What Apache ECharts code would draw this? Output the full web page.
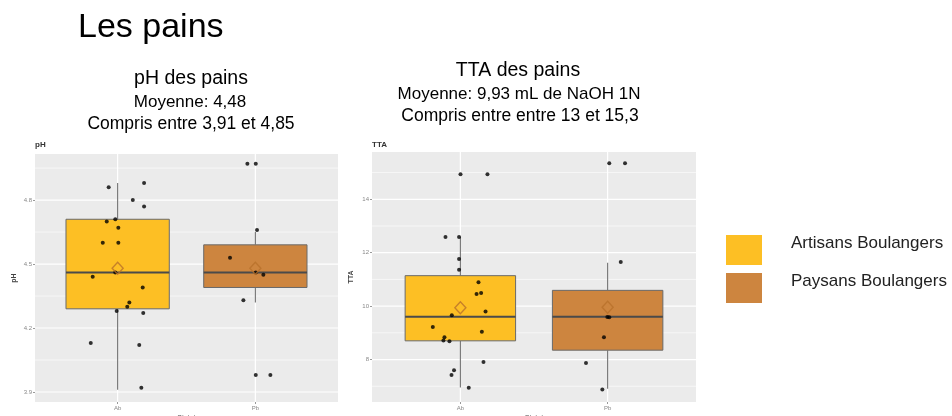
<!DOCTYPE html>
<html><head><meta charset="utf-8">
<script src="https://cdn.jsdelivr.net/npm/echarts@6/dist/echarts.min.js"></script>
<style>html,body{margin:0;padding:0;background:#fff}#c{width:952px;height:416px}</style>
</head><body><div id="c"></div><script>
const categories = ['Ab', 'Pb'];
const groupNames = ['Artisans Boulangers', 'Paysans Boulangers'];
const groupColors = ['#FDBF24', '#CD853F'];

const phTicks = [3.9, 4.2, 4.5, 4.8];
const phMinorTicks = [4.05, 4.35, 4.65, 4.95];
const ttaTicks = [8, 10, 12, 14];
const ttaMinorTicks = [7, 9, 11, 13, 15];

// box stats [min, q1, median, q3, max]
const phBoxAb = [3.91, 4.29, 4.46, 4.71, 4.88];
const phBoxPb = [4.32, 4.39, 4.46, 4.59, 4.65];
const phMeans = [4.48, 4.48];
const ttaBoxAb = [6.95, 8.70, 9.60, 11.14, 12.60];
const ttaBoxPb = [6.91, 8.35, 9.60, 10.59, 11.62];
const ttaMeans = [9.94, 9.96];

// observations and their horizontal jitter (category units)
const phAbValues = [4.86, 4.88, 4.80, 4.77, 4.70, 4.71, 4.67, 4.60, 4.60, 4.46, 4.44, 4.39, 4.32, 4.30, 4.28, 4.27, 4.13, 4.12, 3.92];
const phAbJitter = [-0.065, 0.192, 0.110, 0.192, -0.079, -0.017, 0.005, -0.108, 0.005, -0.017, -0.181, 0.182, 0.085, 0.070, -0.007, 0.186, -0.195, 0.157, 0.172];
const phPbValues = [4.97, 4.97, 4.66, 4.53, 4.46, 4.45, 4.33, 3.98, 3.98];
const phPbJitter = [-0.058, 0.003, 0.012, -0.184, 0.003, 0.058, -0.087, 0.003, 0.109];
const ttaAbValues = [14.94, 14.94, 12.59, 12.59, 11.76, 11.36, 10.89, 10.45, 10.49, 9.80, 9.66, 9.22, 9.04, 8.83, 8.71, 8.68, 7.91, 7.60, 7.42, 6.94];
const ttaAbJitter = [0.001, 0.184, -0.101, -0.009, -0.009, -0.009, 0.123, 0.110, 0.141, 0.171, -0.058, -0.187, 0.146, -0.108, -0.115, -0.074, 0.157, -0.043, -0.060, 0.057];
const ttaPbValues = [15.35, 15.35, 11.65, 9.59, 9.58, 8.83, 7.87, 6.88];
const ttaPbJitter = [0.011, 0.118, 0.089, -0.002, 0.011, -0.025, -0.147, -0.036];

const chart = echarts.init(document.getElementById('c'));
const FONT = 'Liberation Sans, Arial, sans-serif';

function hLines(idx, values, width) {
  return {
    type: 'custom', xAxisIndex: idx, yAxisIndex: idx, silent: true, z: 1,
    data: values.map(v => [1, v]),
    encode: { x: 0, y: 1 },
    renderItem: (params, api) => {
      const cs = params.coordSys;
      const y = api.coord([1, api.value(1)])[1];
      return { type: 'line', shape: { x1: cs.x, y1: y, x2: cs.x + cs.width, y2: y },
        style: { stroke: '#ffffff', lineWidth: width } };
    }
  };
}
function vLines(idx) {
  return {
    type: 'custom', xAxisIndex: idx, yAxisIndex: idx, silent: true, z: 1,
    data: categories.map((c, i) => [i + 1]),
    encode: { x: 0 },
    renderItem: (params, api) => {
      const cs = params.coordSys;
      const x = api.coord([api.value(0), 0])[0];
      return { type: 'line', shape: { x1: x, y1: cs.y, x2: x, y2: cs.y + cs.height },
        style: { stroke: '#ffffff', lineWidth: 1.2 } };
    }
  };
}
function boxSeries(idx, g, stats) {
  return {
    type: 'custom', name: groupNames[g], xAxisIndex: idx, yAxisIndex: idx, z: 2,
    itemStyle: { color: groupColors[g] },
    data: [[g + 1].concat(stats)],
    encode: { x: 0, y: [1, 2, 3, 4, 5] },
    renderItem: (params, api) => {
      const x = api.value(0);
      const half = 0.375;
      const pMin = api.coord([x, api.value(1)]);
      const pQ1 = api.coord([x, api.value(2)]);
      const pMed = api.coord([x, api.value(3)]);
      const pQ3 = api.coord([x, api.value(4)]);
      const pMax = api.coord([x, api.value(5)]);
      const l = api.coord([x - half, 0])[0];
      const r = api.coord([x + half, 0])[0];
      const ws = { stroke: '#707070', lineWidth: 1.1 };
      return { type: 'group', children: [
        { type: 'line', shape: { x1: pMin[0], y1: pMin[1], x2: pQ1[0], y2: pQ1[1] }, style: ws },
        { type: 'line', shape: { x1: pQ3[0], y1: pQ3[1], x2: pMax[0], y2: pMax[1] }, style: ws },
        { type: 'rect', shape: { x: l, y: pQ3[1], width: r - l, height: pQ1[1] - pQ3[1] },
          style: { fill: groupColors[g], stroke: '#6a6a6a', lineWidth: 1 } },
        { type: 'line', shape: { x1: l, y1: pMed[1], x2: r, y2: pMed[1] }, style: { stroke: '#4a4a4a', lineWidth: 2 } }
      ]};
    }
  };
}
function pointSeries(idx, g, values, jitter) {
  return {
    type: 'scatter', xAxisIndex: idx, yAxisIndex: idx, z: 3, silent: true,
    symbolSize: 4, itemStyle: { color: '#000' },
    data: values.map((v, i) => [g + 1 + jitter[i], v])
  };
}
function meanSeries(idx, means) {
  return {
    type: 'scatter', xAxisIndex: idx, yAxisIndex: idx, z: 4, silent: true,
    symbol: 'diamond', symbolSize: [11, 12],
    itemStyle: { color: 'rgba(0,0,0,0)', borderColor: '#B8702A', borderWidth: 1.4 },
    data: means.map((m, i) => [i + 1, m])
  };
}
function xAxis(idx) {
  return {
    type: 'value', gridIndex: idx, min: 0.4, max: 2.6,
    axisLine: { show: false }, splitLine: { show: false },
    axisTick: { show: true, customValues: [1, 2], length: 2, lineStyle: { color: '#999' } },
    axisLabel: { customValues: [1, 2], formatter: v => categories[Math.round(v) - 1], fontSize: 6, color: '#888', margin: 3, fontFamily: FONT },
    name: 'Statut', nameLocation: 'middle', nameGap: 13, nameMoveOverlap: false,
    nameTextStyle: { fontSize: 7, color: '#555', fontFamily: FONT }
  };
}
function yAxis(idx, min, max, ticks, name, dec) {
  return {
    type: 'value', gridIndex: idx, min: min, max: max,
    axisLine: { show: false }, splitLine: { show: false },
    axisTick: { show: true, customValues: ticks, length: 2, lineStyle: { color: '#999' } },
    axisLabel: { customValues: ticks, formatter: v => v.toFixed(dec), fontSize: 6, color: '#888', margin: 3, fontFamily: FONT },
    name: name, nameLocation: 'middle', nameGap: 17, nameMoveOverlap: false,
    nameTextStyle: { fontSize: 7, color: '#444', fontWeight: 'bold', fontFamily: FONT }
  };
}
function txt(x, y, s, size, align) {
  return { type: 'text', x: x, y: y, style: { text: s, fontSize: size, fontFamily: FONT, fill: '#000',
    textAlign: align || 'center', textVerticalAlign: 'middle' } };
}

chart.setOption({
  animation: false,
  textStyle: { fontFamily: FONT },
  grid: [
    { left: 35, top: 154, width: 303, height: 248, show: true, backgroundColor: '#EBEBEB', borderWidth: 0, outerBoundsMode: 'none', containLabel: false },
    { left: 372, top: 152, width: 324, height: 250, show: true, backgroundColor: '#EBEBEB', borderWidth: 0, outerBoundsMode: 'none', containLabel: false }
  ],
  xAxis: [xAxis(0), xAxis(1)],
  yAxis: [yAxis(0, 3.853, 5.016, phTicks, 'pH', 1), yAxis(1, 6.41, 15.77, ttaTicks, 'TTA', 0)],
  legend: {
    orient: 'vertical', left: 721, top: 230, itemWidth: 36, itemHeight: 30, itemGap: 8,
    icon: 'rect', selectedMode: false, data: groupNames,
    formatter: () => '',
    textStyle: { fontSize: 1 }
  },
  graphic: [
    txt(78, 28, 'Les pains', 34, 'left'),
    txt(191, 79, 'pH des pains', 19.5),
    txt(190, 102, 'Moyenne: 4,48', 17),
    txt(191, 124, 'Compris entre 3,91 et 4,85', 17.5),
    txt(518, 71, 'TTA des pains', 19.5),
    txt(519, 94, 'Moyenne: 9,93 mL de NaOH 1N', 17),
    txt(520, 116, 'Compris entre entre 13 et 15,3', 17.5),
    { type: 'text', x: 791, y: 243, style: { text: groupNames[0], fontSize: 17, fill: '#222', fontFamily: FONT, textVerticalAlign: 'middle' } },
    { type: 'text', x: 791, y: 281, style: { text: groupNames[1], fontSize: 17, fill: '#222', fontFamily: FONT, textVerticalAlign: 'middle' } },
    { type: 'text', x: 35, y: 145, style: { text: 'pH', fontSize: 8, fontWeight: 'bold', fill: '#333', fontFamily: FONT, textVerticalAlign: 'middle' } },
    { type: 'text', x: 372, y: 145, style: { text: 'TTA', fontSize: 8, fontWeight: 'bold', fill: '#333', fontFamily: FONT, textVerticalAlign: 'middle' } }
  ],
  series: [
    hLines(0, phMinorTicks, 0.6), hLines(0, phTicks, 1.2), vLines(0),
    hLines(1, ttaMinorTicks, 0.6), hLines(1, ttaTicks, 1.2), vLines(1),
    boxSeries(0, 0, phBoxAb), boxSeries(0, 1, phBoxPb),
    boxSeries(1, 0, ttaBoxAb), boxSeries(1, 1, ttaBoxPb),
    pointSeries(0, 0, phAbValues, phAbJitter), pointSeries(0, 1, phPbValues, phPbJitter),
    pointSeries(1, 0, ttaAbValues, ttaAbJitter), pointSeries(1, 1, ttaPbValues, ttaPbJitter),
    meanSeries(0, phMeans), meanSeries(1, ttaMeans)
  ]
});
</script></body></html>
